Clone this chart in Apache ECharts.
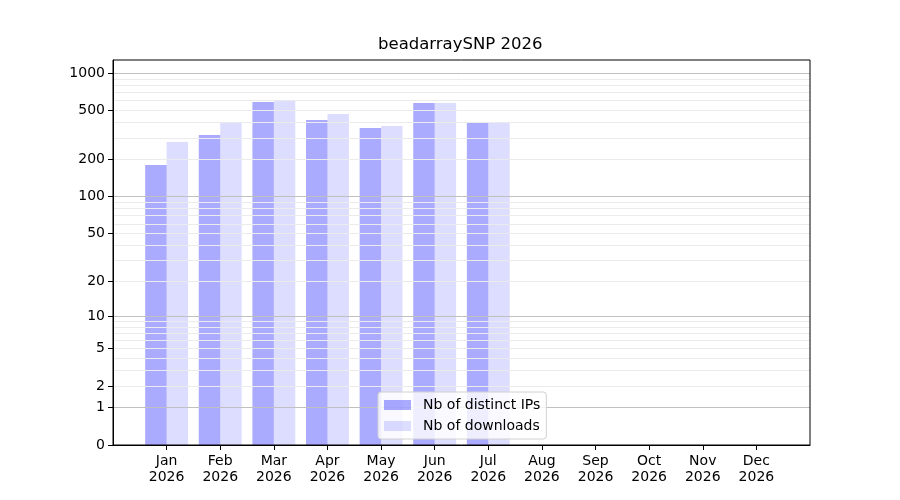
<!DOCTYPE html>
<html>
<head>
<meta charset="utf-8">
<script src="https://cdn.jsdelivr.net/npm/echarts@6/dist/echarts.min.js"></script>
<style>html,body{margin:0;padding:0;background:#fff}#c{width:900px;height:500px}</style>
</head>
<body>
<div id="c"></div>
<script>
const title = 'beadarraySNP 2026';
const months = ['Jan','Feb','Mar','Apr','May','Jun','Jul','Aug','Sep','Oct','Nov','Dec'];
const year = '2026';
const distinctIPs = [181, 317, 586, 419, 361, 575, 396];
const downloads = [278, 403, 608, 469, 375, 575, 403];
const yTicks = [0, 1, 2, 5, 10, 20, 50, 100, 200, 500, 1000];
const majorGrid = [1, 10, 100, 1000];
const minorGrid = [2,3,4,5,6,7,8,9,20,30,40,50,60,70,80,90,200,300,400,500,600,700,800,900];
const seriesNames = ['Nb of distinct IPs', 'Nb of downloads'];

// symlog-like: axis is a log axis of (1 + value)
const sh = v => v + 1;
const cats = [''].concat(months.map(m => m + '\n' + year)).concat(['']);
const pad = arr => [null].concat(arr.map(sh)).concat(new Array(cats.length - 1 - arr.length).fill(null));

const font = 'DejaVu Sans';
const chart = echarts.init(document.getElementById('c'), null, {renderer: 'canvas'});
const gridLines = [];
minorGrid.forEach(v => gridLines.push({yAxis: sh(v), lineStyle: {color: '#ebebeb', width: 1, type: 'solid'}}));
majorGrid.forEach(v => gridLines.push({yAxis: sh(v), lineStyle: {color: '#c0c0c0', width: 1, type: 'solid'}}));

chart.setOption({
  animation: false,
  textStyle: {fontFamily: font},
  title: {
    text: title, left: 378, top: 36, padding: 0,
    textStyle: {fontFamily: font, fontSize: 16.5, fontWeight: 'normal', color: '#000'}
  },
  grid: {left: 113, right: 90, top: 60, bottom: 55, show: true, z: 10, borderColor: '#000', borderWidth: 1, backgroundColor: 'transparent'},
  legend: {
    orient: 'vertical', left: 378, top: 392, z: 12,
    data: seriesNames,
    itemWidth: 27, itemHeight: 10, itemGap: 5,
    padding: [5, 6, 5, 6],
    borderColor: '#d0d0d0', borderWidth: 1, borderRadius: 3,
    backgroundColor: 'rgba(255,255,255,0.8)',
    textStyle: {fontFamily: font, fontSize: 14, color: '#000', lineHeight: 16, padding: [0, 0, 0, 7]},
    icon: 'rect'
  },
  xAxis: {
    type: 'category', data: cats, boundaryGap: false, z: 11,
    axisLine: {show: true, lineStyle: {color: '#000', width: 1}},
    axisTick: {show: true, inside: false, length: 5, lineStyle: {color: '#000'}, interval: (i) => i >= 1 && i <= months.length},
    axisLabel: {interval: 0, color: '#000', fontSize: 14, fontFamily: font, lineHeight: 16, margin: 8},
    splitLine: {show: false}
  },
  yAxis: {
    type: 'log', logBase: 10, min: 1, max: 1279, z: 11,
    axisLine: {show: true, lineStyle: {color: '#000', width: 1}},
    axisTick: {show: true, length: 5, lineStyle: {color: '#000'}, customValues: yTicks.map(sh)},
    axisLabel: {color: '#000', fontSize: 14, fontFamily: font, margin: 8, customValues: yTicks.map(sh), formatter: v => String(Math.round(v - 1))},
    splitLine: {show: false},
    minorTick: {show: false}, minorSplitLine: {show: false}
  },
  series: [
    {
      type: 'line', data: [], silent: true, z: 1,
      markLine: {silent: true, symbol: ['none', 'none'], label: {show: false}, animation: false, data: gridLines}
    },
    {
      name: seriesNames[0], type: 'bar', data: pad(distinctIPs), barWidth: '40%', barGap: '0%', z: 2,
      itemStyle: {color: 'rgba(0,0,255,0.333)'}
    },
    {
      name: seriesNames[1], type: 'bar', data: pad(downloads), barWidth: '40%', barGap: '0%', z: 2,
      itemStyle: {color: 'rgba(0,0,255,0.133)'}
    }
  ]
});
</script>
</body>
</html>
